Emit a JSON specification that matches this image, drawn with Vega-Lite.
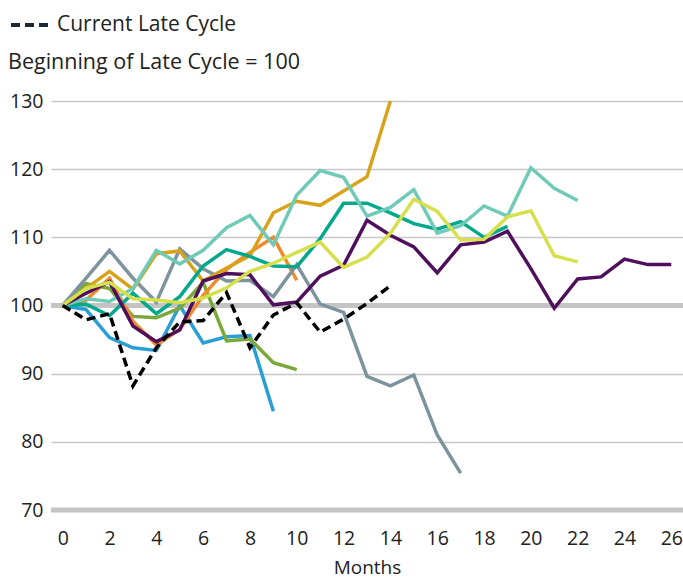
{
  "$schema": "https://vega.github.io/schema/vega-lite/v6.json",
  "width": 632,
  "height": 409,
  "autosize": {"type": "none"},
  "padding": {"left": 51, "top": 101, "right": 0, "bottom": 69},
  "background": "white",
  "config": {"view": {"stroke": null}, "font": "Open Sans"},
  "title": {"text": "Beginning of Late Cycle = 100", "anchor": "start", "frame": "group", "dx": -43, "offset": -69, "fontSize": 21.5, "fontWeight": "normal", "color": "#222222"},
  "layer": [
    {
      "data": {"values": [{"y": 100}, {"y": 70}]},
      "mark": {"type": "rule", "color": "#c4c4c4", "strokeWidth": 5},
      "encoding": {
        "y": {"field": "y", "type": "quantitative", "scale": {"domain": [70, 130], "nice": false},
          "axis": {"values": [70, 80, 90, 100, 110, 120, 130], "ticks": false, "domain": false, "grid": true, "gridColor": "#c8c8c8", "gridWidth": 1.5, "labelPadding": 8, "labelFontSize": 19.5, "labelColor": "#222222", "title": null}}
      }
    },
    {
      "data": {"values": [
        {"s": "Cycle 1", "m": 0, "v": 100}, {"s": "Cycle 1", "m": 1, "v": 99.4}, {"s": "Cycle 1", "m": 2, "v": 95.3}, {"s": "Cycle 1", "m": 3, "v": 93.8}, {"s": "Cycle 1", "m": 4, "v": 93.4}, {"s": "Cycle 1", "m": 5, "v": 100}, {"s": "Cycle 1", "m": 6, "v": 94.5}, {"s": "Cycle 1", "m": 7, "v": 95.4}, {"s": "Cycle 1", "m": 8, "v": 95.6}, {"s": "Cycle 1", "m": 9, "v": 84.5},
        {"s": "Cycle 2", "m": 0, "v": 100}, {"s": "Cycle 2", "m": 1, "v": 103.2}, {"s": "Cycle 2", "m": 2, "v": 102.5}, {"s": "Cycle 2", "m": 3, "v": 98.4}, {"s": "Cycle 2", "m": 4, "v": 98.2}, {"s": "Cycle 2", "m": 5, "v": 99.6}, {"s": "Cycle 2", "m": 6, "v": 103.4}, {"s": "Cycle 2", "m": 7, "v": 94.8}, {"s": "Cycle 2", "m": 8, "v": 95.1}, {"s": "Cycle 2", "m": 9, "v": 91.6}, {"s": "Cycle 2", "m": 10, "v": 90.6},
        {"s": "Cycle 3", "m": 0, "v": 100}, {"s": "Cycle 3", "m": 1, "v": 100.8}, {"s": "Cycle 3", "m": 2, "v": 104}, {"s": "Cycle 3", "m": 3, "v": 97.7}, {"s": "Cycle 3", "m": 4, "v": 94.2}, {"s": "Cycle 3", "m": 5, "v": 96.5}, {"s": "Cycle 3", "m": 6, "v": 101.5}, {"s": "Cycle 3", "m": 7, "v": 105.3}, {"s": "Cycle 3", "m": 8, "v": 107.8}, {"s": "Cycle 3", "m": 9, "v": 110}, {"s": "Cycle 3", "m": 10, "v": 103.7},
        {"s": "Cycle 4", "m": 0, "v": 100}, {"s": "Cycle 4", "m": 1, "v": 104}, {"s": "Cycle 4", "m": 2, "v": 108.1}, {"s": "Cycle 4", "m": 3, "v": 104}, {"s": "Cycle 4", "m": 4, "v": 100.5}, {"s": "Cycle 4", "m": 5, "v": 108.3}, {"s": "Cycle 4", "m": 6, "v": 105.4}, {"s": "Cycle 4", "m": 7, "v": 103.6}, {"s": "Cycle 4", "m": 8, "v": 103.7}, {"s": "Cycle 4", "m": 9, "v": 101.3}, {"s": "Cycle 4", "m": 10, "v": 106}, {"s": "Cycle 4", "m": 11, "v": 100.2}, {"s": "Cycle 4", "m": 12, "v": 99}, {"s": "Cycle 4", "m": 13, "v": 89.6}, {"s": "Cycle 4", "m": 14, "v": 88.2}, {"s": "Cycle 4", "m": 15, "v": 89.8}, {"s": "Cycle 4", "m": 16, "v": 81}, {"s": "Cycle 4", "m": 17, "v": 75.4},
        {"s": "Cycle 5", "m": 0, "v": 100}, {"s": "Cycle 5", "m": 1, "v": 102.5}, {"s": "Cycle 5", "m": 2, "v": 105}, {"s": "Cycle 5", "m": 3, "v": 102.4}, {"s": "Cycle 5", "m": 4, "v": 107.6}, {"s": "Cycle 5", "m": 5, "v": 108}, {"s": "Cycle 5", "m": 6, "v": 103.6}, {"s": "Cycle 5", "m": 7, "v": 105.5}, {"s": "Cycle 5", "m": 8, "v": 107.3}, {"s": "Cycle 5", "m": 9, "v": 113.6}, {"s": "Cycle 5", "m": 10, "v": 115.3}, {"s": "Cycle 5", "m": 11, "v": 114.7}, {"s": "Cycle 5", "m": 12, "v": 116.8}, {"s": "Cycle 5", "m": 13, "v": 118.9}, {"s": "Cycle 5", "m": 14, "v": 130},
        {"s": "Cycle 6", "m": 0, "v": 100}, {"s": "Cycle 6", "m": 1, "v": 100.2}, {"s": "Cycle 6", "m": 2, "v": 98.5}, {"s": "Cycle 6", "m": 3, "v": 101.8}, {"s": "Cycle 6", "m": 4, "v": 98.8}, {"s": "Cycle 6", "m": 5, "v": 101.3}, {"s": "Cycle 6", "m": 6, "v": 105.8}, {"s": "Cycle 6", "m": 7, "v": 108.2}, {"s": "Cycle 6", "m": 8, "v": 107.2}, {"s": "Cycle 6", "m": 9, "v": 105.8}, {"s": "Cycle 6", "m": 10, "v": 105.7}, {"s": "Cycle 6", "m": 11, "v": 109.8}, {"s": "Cycle 6", "m": 12, "v": 115}, {"s": "Cycle 6", "m": 13, "v": 115}, {"s": "Cycle 6", "m": 14, "v": 113.6}, {"s": "Cycle 6", "m": 15, "v": 112}, {"s": "Cycle 6", "m": 16, "v": 111.2}, {"s": "Cycle 6", "m": 17, "v": 112.3}, {"s": "Cycle 6", "m": 18, "v": 110}, {"s": "Cycle 6", "m": 19, "v": 111.6},
        {"s": "Cycle 7", "m": 0, "v": 100}, {"s": "Cycle 7", "m": 1, "v": 101}, {"s": "Cycle 7", "m": 2, "v": 100.6}, {"s": "Cycle 7", "m": 3, "v": 102.5}, {"s": "Cycle 7", "m": 4, "v": 108.1}, {"s": "Cycle 7", "m": 5, "v": 106.1}, {"s": "Cycle 7", "m": 6, "v": 108.1}, {"s": "Cycle 7", "m": 7, "v": 111.4}, {"s": "Cycle 7", "m": 8, "v": 113.2}, {"s": "Cycle 7", "m": 9, "v": 108.9}, {"s": "Cycle 7", "m": 10, "v": 116.2}, {"s": "Cycle 7", "m": 11, "v": 119.8}, {"s": "Cycle 7", "m": 12, "v": 118.8}, {"s": "Cycle 7", "m": 13, "v": 113.1}, {"s": "Cycle 7", "m": 14, "v": 114.4}, {"s": "Cycle 7", "m": 15, "v": 117}, {"s": "Cycle 7", "m": 16, "v": 110.6}, {"s": "Cycle 7", "m": 17, "v": 111.7}, {"s": "Cycle 7", "m": 18, "v": 114.6}, {"s": "Cycle 7", "m": 19, "v": 113.1}, {"s": "Cycle 7", "m": 20, "v": 120.2}, {"s": "Cycle 7", "m": 21, "v": 117.2}, {"s": "Cycle 7", "m": 22, "v": 115.4},
        {"s": "Cycle 8", "m": 0, "v": 100}, {"s": "Cycle 8", "m": 1, "v": 101.8}, {"s": "Cycle 8", "m": 2, "v": 103.5}, {"s": "Cycle 8", "m": 3, "v": 97}, {"s": "Cycle 8", "m": 4, "v": 94.7}, {"s": "Cycle 8", "m": 5, "v": 96.4}, {"s": "Cycle 8", "m": 6, "v": 103.6}, {"s": "Cycle 8", "m": 7, "v": 104.7}, {"s": "Cycle 8", "m": 8, "v": 104.5}, {"s": "Cycle 8", "m": 9, "v": 100.1}, {"s": "Cycle 8", "m": 10, "v": 100.5}, {"s": "Cycle 8", "m": 11, "v": 104.3}, {"s": "Cycle 8", "m": 12, "v": 105.9}, {"s": "Cycle 8", "m": 13, "v": 112.5}, {"s": "Cycle 8", "m": 14, "v": 110.3}, {"s": "Cycle 8", "m": 15, "v": 108.6}, {"s": "Cycle 8", "m": 16, "v": 104.8}, {"s": "Cycle 8", "m": 17, "v": 108.9}, {"s": "Cycle 8", "m": 18, "v": 109.3}, {"s": "Cycle 8", "m": 19, "v": 110.9}, {"s": "Cycle 8", "m": 20, "v": 105.4}, {"s": "Cycle 8", "m": 21, "v": 99.6}, {"s": "Cycle 8", "m": 22, "v": 103.9}, {"s": "Cycle 8", "m": 23, "v": 104.2}, {"s": "Cycle 8", "m": 24, "v": 106.8}, {"s": "Cycle 8", "m": 25, "v": 106}, {"s": "Cycle 8", "m": 26, "v": 106},
        {"s": "Cycle 9", "m": 0, "v": 100}, {"s": "Cycle 9", "m": 1, "v": 102.5}, {"s": "Cycle 9", "m": 2, "v": 103.4}, {"s": "Cycle 9", "m": 3, "v": 101}, {"s": "Cycle 9", "m": 4, "v": 100.8}, {"s": "Cycle 9", "m": 5, "v": 100.4}, {"s": "Cycle 9", "m": 6, "v": 101.1}, {"s": "Cycle 9", "m": 7, "v": 102.6}, {"s": "Cycle 9", "m": 8, "v": 105}, {"s": "Cycle 9", "m": 9, "v": 106.2}, {"s": "Cycle 9", "m": 10, "v": 107.8}, {"s": "Cycle 9", "m": 11, "v": 109.3}, {"s": "Cycle 9", "m": 12, "v": 105.6}, {"s": "Cycle 9", "m": 13, "v": 107.1}, {"s": "Cycle 9", "m": 14, "v": 110.6}, {"s": "Cycle 9", "m": 15, "v": 115.6}, {"s": "Cycle 9", "m": 16, "v": 113.8}, {"s": "Cycle 9", "m": 17, "v": 109.6}, {"s": "Cycle 9", "m": 18, "v": 109.7}, {"s": "Cycle 9", "m": 19, "v": 113}, {"s": "Cycle 9", "m": 20, "v": 113.9}, {"s": "Cycle 9", "m": 21, "v": 107.3}, {"s": "Cycle 9", "m": 22, "v": 106.4}
      ]},
      "mark": {"type": "line", "strokeWidth": 3.5, "strokeJoin": "miter"},
      "encoding": {
        "x": {"field": "m", "type": "quantitative", "scale": {"domain": [-0.5, 26.5], "nice": false},
          "axis": {"values": [0, 2, 4, 6, 8, 10, 12, 14, 16, 18, 20, 22, 24, 26], "ticks": false, "domain": false, "grid": false, "labelPadding": 19, "labelFontSize": 19.5, "labelColor": "#222222", "title": "Months", "titleFontSize": 19, "titleFontWeight": "normal", "titleColor": "#222222", "titlePadding": 11}},
        "y": {"field": "v", "type": "quantitative", "scale": {"domain": [70, 130], "nice": false},
          "axis": {"values": [70, 80, 90, 100, 110, 120, 130], "ticks": false, "domain": false, "grid": true, "gridColor": "#c8c8c8", "gridWidth": 1.5, "labelPadding": 8, "labelFontSize": 19.5, "labelColor": "#222222", "title": null}},
        "color": {"field": "s", "type": "nominal", "legend": null,
          "scale": {"domain": ["Cycle 1", "Cycle 2", "Cycle 3", "Cycle 4", "Cycle 5", "Cycle 6", "Cycle 7", "Cycle 8", "Cycle 9"],
                    "range": ["#2a9fd6", "#79a93a", "#f08a2c", "#7d939e", "#d8a31a", "#00a88e", "#6fcab8", "#4f0f5c", "#d6e04a"]}}
      }
    },
    {
      "data": {"values": [
        {"s": "Current Late Cycle", "m": 0, "v": 100}, {"s": "Current Late Cycle", "m": 1, "v": 97.9}, {"s": "Current Late Cycle", "m": 2, "v": 98.8}, {"s": "Current Late Cycle", "m": 3, "v": 88.2}, {"s": "Current Late Cycle", "m": 4, "v": 93.8}, {"s": "Current Late Cycle", "m": 5, "v": 97.6}, {"s": "Current Late Cycle", "m": 6, "v": 97.8}, {"s": "Current Late Cycle", "m": 7, "v": 101.9}, {"s": "Current Late Cycle", "m": 8, "v": 93.8}, {"s": "Current Late Cycle", "m": 9, "v": 98.6}, {"s": "Current Late Cycle", "m": 10, "v": 100.4}, {"s": "Current Late Cycle", "m": 11, "v": 96.1}, {"s": "Current Late Cycle", "m": 12, "v": 98}, {"s": "Current Late Cycle", "m": 13, "v": 100.3}, {"s": "Current Late Cycle", "m": 14, "v": 102.9}
      ]},
      "mark": {"type": "line", "strokeWidth": 3.5, "color": "#000000"},
      "encoding": {
        "x": {"field": "m", "type": "quantitative", "scale": {"domain": [-0.5, 26.5], "nice": false},
          "axis": {"values": [0, 2, 4, 6, 8, 10, 12, 14, 16, 18, 20, 22, 24, 26], "ticks": false, "domain": false, "grid": false, "labelPadding": 19, "labelFontSize": 19.5, "labelColor": "#222222", "title": "Months", "titleFontSize": 19, "titleFontWeight": "normal", "titleColor": "#222222", "titlePadding": 11}},
        "y": {"field": "v", "type": "quantitative", "scale": {"domain": [70, 130], "nice": false},
          "axis": {"values": [70, 80, 90, 100, 110, 120, 130], "ticks": false, "domain": false, "grid": true, "gridColor": "#c8c8c8", "gridWidth": 1.5, "labelPadding": 8, "labelFontSize": 19.5, "labelColor": "#222222", "title": null}},
        "strokeDash": {"field": "s", "type": "nominal", "scale": {"domain": ["Current Late Cycle"], "range": [[9, 5]]},
          "legend": {"title": null, "orient": "none", "legendX": -42, "legendY": -97, "padding": 0, "symbolType": "stroke", "symbolSize": 1444, "symbolStrokeWidth": 4, "symbolStrokeColor": "#1b2836", "symbolDash": [10, 4], "labelFontSize": 21, "labelLimit": 400, "labelColor": "#222222", "labelOffset": 6}}
      }
    }
  ]
}
